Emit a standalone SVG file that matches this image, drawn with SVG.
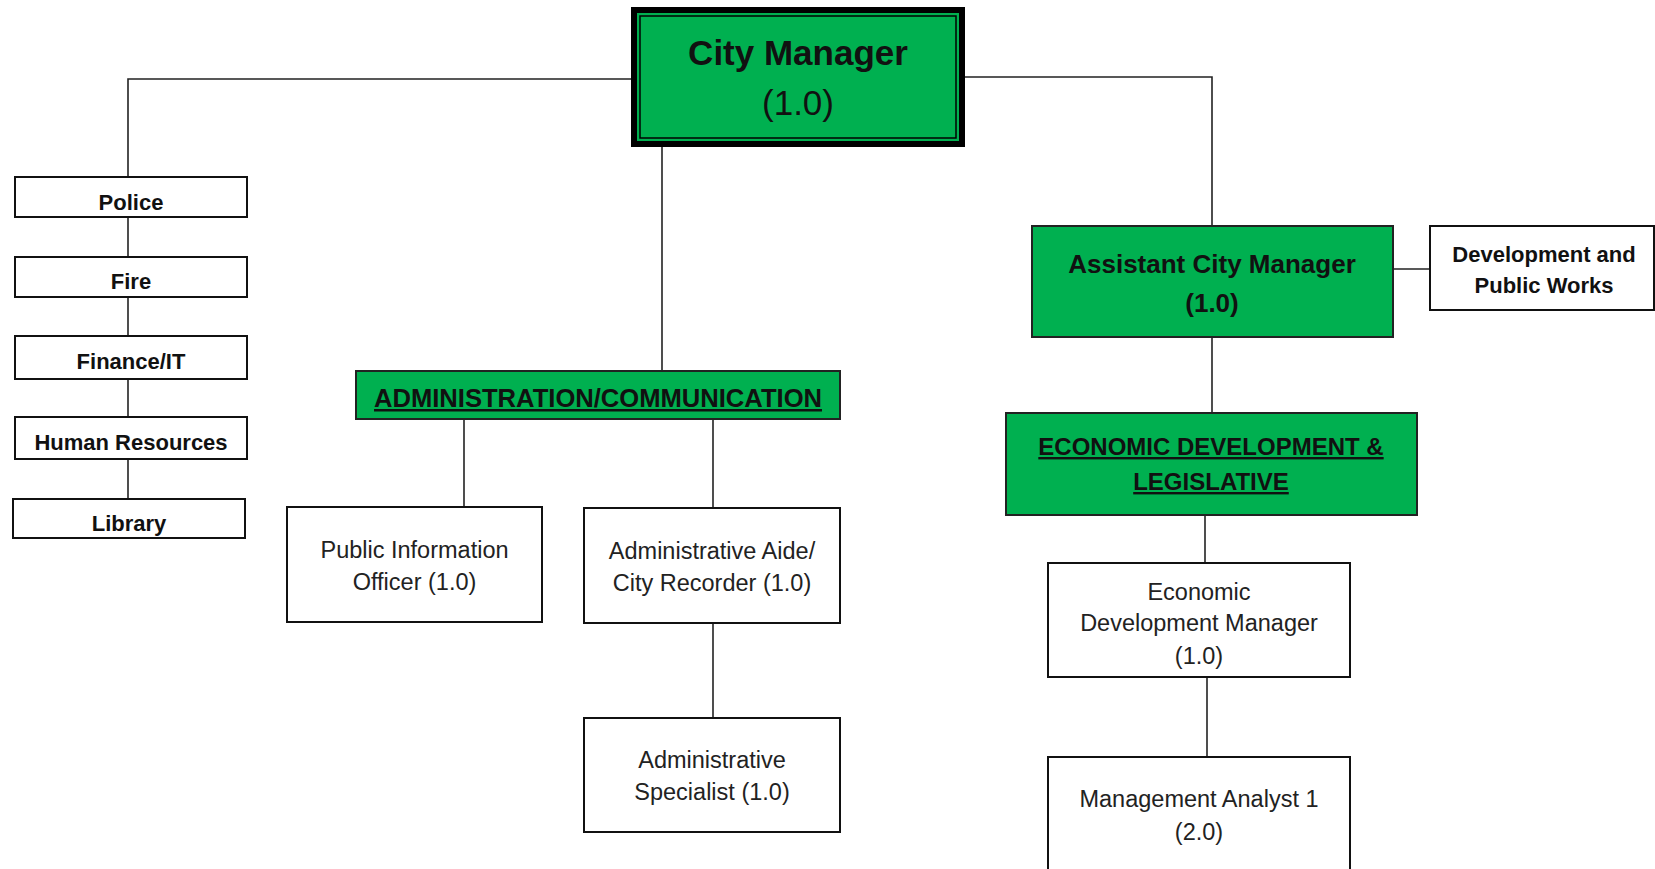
<svg xmlns="http://www.w3.org/2000/svg" width="1655" height="869" viewBox="0 0 1655 869">
<style>
.box{fill:#fff;stroke:#111;stroke-width:2}
.gbox{fill:#00b050;stroke:#222;stroke-width:2}
.ln{stroke:#222;stroke-width:1.6;fill:none}
text{font-family:"Liberation Sans",Arial,sans-serif;fill:#111;text-anchor:middle}
.b{font-weight:bold}
.sm{font-size:22px}
.rg{font-size:23.5px;fill:#222}
.u{text-decoration:underline}
</style>
<rect width="1655" height="869" fill="#fff"/>
<g id="connectors">
<polyline class="ln" points="631,79 128,79 128,177"/>
<line class="ln" x1="128" y1="217" x2="128" y2="257"/>
<line class="ln" x1="128" y1="297" x2="128" y2="336"/>
<line class="ln" x1="128" y1="379" x2="128" y2="417"/>
<line class="ln" x1="128" y1="459" x2="128" y2="499"/>
<polyline class="ln" points="965,77 1212,77 1212,226"/>
<line class="ln" x1="662" y1="147" x2="662" y2="371"/>
<line class="ln" x1="464" y1="419" x2="464" y2="507"/>
<line class="ln" x1="713" y1="419" x2="713" y2="508"/>
<line class="ln" x1="713" y1="623" x2="713" y2="718"/>
<line class="ln" x1="1393" y1="269" x2="1430" y2="269"/>
<line class="ln" x1="1212" y1="337" x2="1212" y2="413"/>
<line class="ln" x1="1205" y1="515" x2="1205" y2="563"/>
<line class="ln" x1="1207" y1="677" x2="1207" y2="757"/>
</g>
<g id="city-manager">
<rect x="634" y="10" width="328" height="134" fill="#00b050" stroke="#000" stroke-width="6"/>
<rect x="640" y="16" width="316" height="122" fill="none" stroke="#000" stroke-width="1.5"/>
<text class="b" x="798" y="65" font-size="35">City Manager</text>
<text x="798" y="115" font-size="35">(1.0)</text>
</g>
<g id="police"><rect class="box" x="15" y="177" width="232" height="40"/><text class="b sm" x="131" y="210">Police</text></g>
<g id="fire"><rect class="box" x="15" y="257" width="232" height="40"/><text class="b sm" x="131" y="289">Fire</text></g>
<g id="finance"><rect class="box" x="15" y="336" width="232" height="43"/><text class="b sm" x="131" y="369">Finance/IT</text></g>
<g id="hr"><rect class="box" x="15" y="417" width="232" height="42"/><text class="b sm" x="131" y="450">Human Resources</text></g>
<g id="library"><rect class="box" x="13" y="499" width="232" height="39"/><text class="b sm" x="129" y="531">Library</text></g>
<g id="admin-comm"><rect class="gbox" x="356" y="371" width="484" height="48"/><text class="b u" x="598" y="407" font-size="25" textLength="448" lengthAdjust="spacingAndGlyphs">ADMINISTRATION/COMMUNICATION</text></g>
<g id="pio"><rect class="box" x="287" y="507" width="255" height="115"/><text class="rg" x="414.5" y="558">Public Information</text><text class="rg" x="414.5" y="590">Officer (1.0)</text></g>
<g id="admin-aide"><rect class="box" x="584" y="508" width="256" height="115"/><text class="rg" x="712" y="559">Administrative Aide/</text><text class="rg" x="712" y="591">City Recorder (1.0)</text></g>
<g id="admin-spec"><rect class="box" x="584" y="718" width="256" height="114"/><text class="rg" x="712" y="768">Administrative</text><text class="rg" x="712" y="800">Specialist (1.0)</text></g>
<g id="acm"><rect class="gbox" x="1032" y="226" width="361" height="111"/><text class="b" x="1212" y="273" font-size="26">Assistant City Manager</text><text class="b" x="1212" y="312" font-size="26">(1.0)</text></g>
<g id="dpw"><rect class="box" x="1430" y="226" width="224" height="84"/><text class="b sm" x="1544" y="262">Development and</text><text class="b sm" x="1544" y="293">Public Works</text></g>
<g id="econ"><rect class="gbox" x="1006" y="413" width="411" height="102"/><text class="b u" x="1211" y="455" font-size="24">ECONOMIC DEVELOPMENT &amp;</text><text class="b u" x="1211" y="490" font-size="24">LEGISLATIVE</text></g>
<g id="edm"><rect class="box" x="1048" y="563" width="302" height="114"/><text class="rg" x="1199" y="600">Economic</text><text class="rg" x="1199" y="631">Development Manager</text><text class="rg" x="1199" y="664">(1.0)</text></g>
<g id="ma"><rect class="box" x="1048" y="757" width="302" height="125"/><text class="rg" x="1199" y="807">Management Analyst 1</text><text class="rg" x="1199" y="840">(2.0)</text></g>
</svg>
